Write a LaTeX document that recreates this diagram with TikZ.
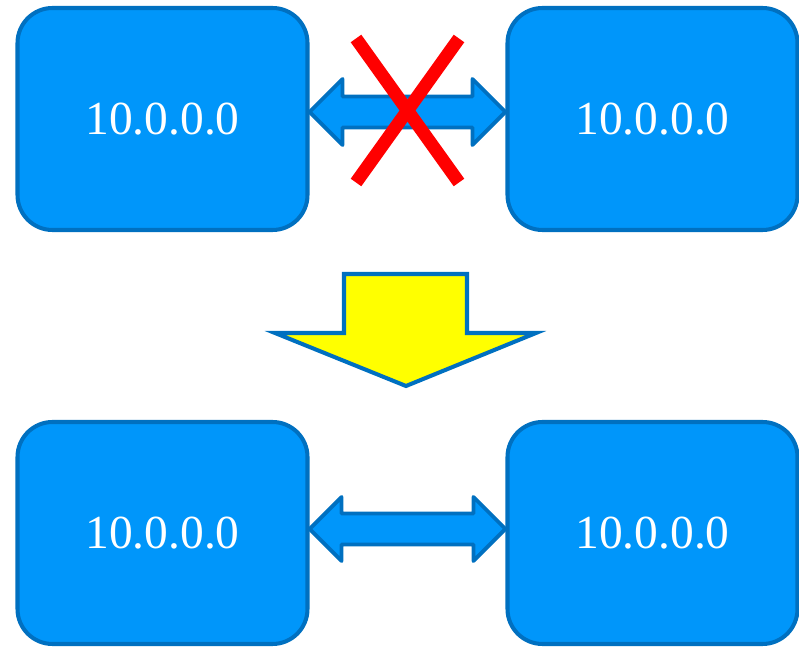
\documentclass[tikz,border=0pt]{standalone}
\usepackage{fontspec}
\setmainfont{Liberation Serif}
\usepackage{xcolor}
\usepackage{tikz}
\usetikzlibrary{calc}

\definecolor{hostblue}{RGB}{0,150,250}
\definecolor{edgeblue}{RGB}{0,112,192}
\definecolor{pureyellow}{RGB}{255,255,0}
\definecolor{purered}{RGB}{255,0,0}

\begin{document}
\begin{tikzpicture}[
  host/.style={draw=edgeblue, line width=2.3pt, fill=hostblue, rounded corners=0.7cm,
    minimum width=5.8cm, minimum height=4.44cm, inner sep=0pt, text=white,
    font=\fontsize{27}{31}\selectfont},
  link/.style={draw=edgeblue, line width=2.2pt, fill=hostblue, line join=round},
  change/.style={draw=edgeblue, line width=2.3pt, fill=pureyellow},
  cross/.style={draw=purered, line width=7.4pt}
]
\useasboundingbox (0,0) rectangle (15.98,12.96);

% Define the hosts
\node[host] (tl) at (3.25,10.58) {10.0.0.0};
\node[host] (tr) at (13.05,10.58) {10.0.0.0};
\node[host] (bl) at (3.25,2.30) {10.0.0.0};
\node[host] (br) at (13.05,2.30) {10.0.0.0};

% Draw the links
\coordinate (ta) at ([yshift=0.14cm]tl.east);
\coordinate (tb) at ([yshift=0.14cm]tr.west);
\draw[link] (ta) -- ++(0.66,0.66) |- ($(tb)+(-0.66,0.31)$) -- ++(0,0.35) -- (tb)
  -- ++(-0.66,-0.66) |- ($(ta)+(0.66,-0.31)$) -- ++(0,-0.35) -- cycle;

\coordinate (ba) at ([yshift=0.08cm]bl.east);
\coordinate (bb) at ([yshift=0.08cm]br.west);
\draw[link] (ba) -- ++(0.64,0.64) |- ($(bb)+(-0.64,0.31)$) -- ++(0,0.33) -- (bb)
  -- ++(-0.64,-0.64) |- ($(ba)+(0.64,-0.31)$) -- ++(0,-0.33) -- cycle;

% Cross out the top link
\coordinate (tm) at ($(ta)!0.5!(tb)+(0,0.03)$);
\draw[cross] ($(tm)+(-1.03,1.44)$) -- ($(tm)+(1.03,-1.44)$);
\draw[cross] ($(tm)+(1.03,1.44)$) -- ($(tm)+(-1.03,-1.44)$);

% Draw the big arrow
\draw[change] (6.88,7.48) -- (9.34,7.48) -- (9.34,6.30) -- (10.72,6.30) -- (8.12,5.24)
  -- (5.50,6.30) -- (6.88,6.30) -- cycle;

\end{tikzpicture}
\end{document}
